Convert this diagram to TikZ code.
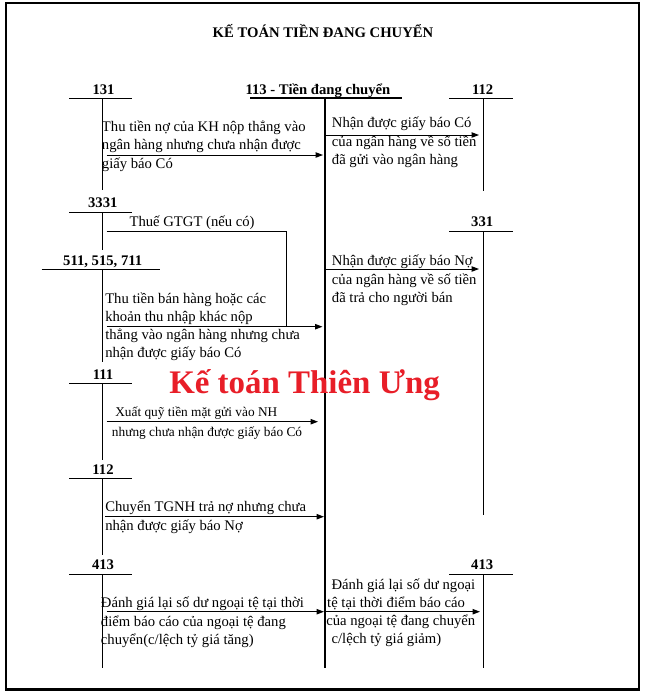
\documentclass[tikz,border=0pt]{standalone}
\usepackage{fontspec}
\setmainfont{Liberation Serif}
\usetikzlibrary{arrows.meta}
\begin{document}
\begin{tikzpicture}[x=0.75pt,y=-0.75pt,
  thinl/.style={line width=0.75pt},
  thickl/.style={line width=1.6pt},
  acct/.style={font=\bfseries\fontsize{11}{13.7}\selectfont, inner sep=0pt, anchor=base},
  txt/.style={font=\fontsize{11}{13.7}\selectfont, inner sep=0pt, anchor=base west, align=left},
  smalltxt/.style={font=\fontsize{10}{14.6}\selectfont, inner sep=0pt, anchor=base west, align=left},
  arr/.style={line width=0.75pt, -{Triangle[length=5.5pt,width=4pt]}},
  wm/.style={font=\bfseries\fontsize{24.7}{28}\selectfont, text={rgb,255:red,232;green,30;blue,40}, inner sep=0pt, anchor=base west}
]
\useasboundingbox (0,0) rectangle (645,694);
\draw[line width=1.7pt] (6,3.3) rectangle (638.8,689.5);
\node[acct] (title) at (323,37) {KẾ TOÁN TIỀN ĐANG CHUYỂN};

% central account
\node[acct] (a113) at (318,94) {113 - Tiền đang chuyển};
\coordinate (cT) at (325,98.3);
\coordinate (cB) at (325,667.5);
\draw[thickl] (250,98.3) -- (402,98.3);
\draw[thickl] (cT) -- (cB);

% left accounts
\node[acct] (a131) at (103.5,94) {131};
\draw[thinl] (69,98.3) -- (132,98.3) (102.7,98.3) -- (102.7,190);
\node[acct] (a3331) at (102.8,207.3) {3331};
\draw[thinl] (69,212) -- (132,212) (102.7,212) -- (102.7,250);
\node[acct] (a511) at (102.7,265) {511, 515, 711};
\draw[thinl] (41.7,269) -- (160,269) (102.7,269) -- (102.7,361.7);
\node[acct] (a111) at (103,379.3) {111};
\draw[thinl] (69,383) -- (132,383) (102.7,383) -- (102.7,460);
\node[acct] (a112b) at (103,474.3) {112};
\draw[thinl] (69,478) -- (132,478) (102.7,478) -- (102.7,555);
\node[acct] (a413a) at (103,569.3) {413};
\draw[thinl] (69,574) -- (132,574) (102.7,574) -- (102.7,667.5);

% right accounts
\node[acct] (a112) at (482.7,94) {112};
\draw[thinl] (449,98.3) -- (513,98.3) (483.3,98.3) -- (483.3,191);
\node[acct] (a331) at (482.2,226.7) {331};
\draw[thinl] (449,231.7) -- (513,231.7) (483.3,231.7) -- (483.3,515);
\node[acct] (a413b) at (482.2,569.3) {413};
\draw[thinl] (449,574) -- (513,574) (483.3,574) -- (483.3,667.5);

% texts (base anchor = baseline of last line)
\node[txt] (t1) at (101.7,168.2) {Thu tiền nợ của KH nộp thẳng vào\\ngân hàng nhưng chưa nhận được\\giấy báo Có};
\node[txt] (t2) at (331.7,164.5) {Nhận được giấy báo Có\\của ngân hàng về số tiền\\đã gửi vào ngân hàng};
\node[txt] (tvat) at (129.3,226.7) {Thuế GTGT (nếu có)};
\node[txt] (t3) at (331.7,302.5) {Nhận được giấy báo Nợ\\của ngân hàng về số tiền\\đã trả cho người bán};
\node[txt] (t4) at (105,357.8) {Thu tiền bán hàng hoặc các\\khoản thu nhập khác nộp\\thẳng vào ngân hàng nhưng chưa\\nhận được giấy báo Có};
\node[smalltxt] (t5) at (111.7,436.2) {\hspace{2.5pt}Xuất quỹ tiền mặt gửi vào NH\\nhưng chưa nhận được giấy báo Có};
\node[txt] (t6) at (105,530) {Chuyển TGNH trả nợ nhưng chưa\\nhận được giấy báo Nợ};
\node[txt] (t7) at (100.7,644.5) {Đánh giá lại số dư ngoại tệ tại thời\\điểm báo cáo của ngoại tệ đang\\chuyển(c/lệch tỷ giá tăng)};
\node[txt] (t8) at (326,643.8) {\hspace{4pt}Đánh giá lại số dư ngoại\\\hspace{0.7pt}tệ tại thời điểm báo cáo\\của ngoại tệ đang chuyển\\\hspace{4pt}c/lệch tỷ giá giảm)};

\node[wm] (wmark) at (169,393.3) {Kế toán Thiên Ưng};

% connectors
\coordinate (s1) at (106.7,155);   \coordinate (e1) at (323,155);
\coordinate (s2) at (325,135);     \coordinate (e2) at (479,135);
\coordinate (s3) at (325,269);     \coordinate (e3) at (479,269);
\coordinate (sv) at (106.7,231.7); \coordinate (kv) at (286.7,231.7); \coordinate (ev) at (286.7,326.7);
\coordinate (s4) at (106.7,326.7); \coordinate (e4) at (322.5,326.7);
\coordinate (s5) at (106.7,421.7); \coordinate (e5) at (318,421.7);
\coordinate (s6) at (105,516.7);   \coordinate (e6) at (324,516.7);
\coordinate (s7) at (106.7,611.7); \coordinate (e7) at (324,611.7);
\coordinate (s8) at (326,611.7);   \coordinate (e8) at (480,611.7);
\draw[arr] (s1) -- (e1);
\draw[arr] (s2) -- (e2);
\draw[arr] (s3) -- (e3);
\draw[thinl] (sv) -- (kv) -- (ev);
\draw[arr] (s4) -- (e4);
\draw[arr] (s5) -- (e5);
\draw[arr] (s6) -- (e6);
\draw[arr] (s7) -- (e7);
\draw[arr] (s8) -- (e8);
\end{tikzpicture}
\end{document}
